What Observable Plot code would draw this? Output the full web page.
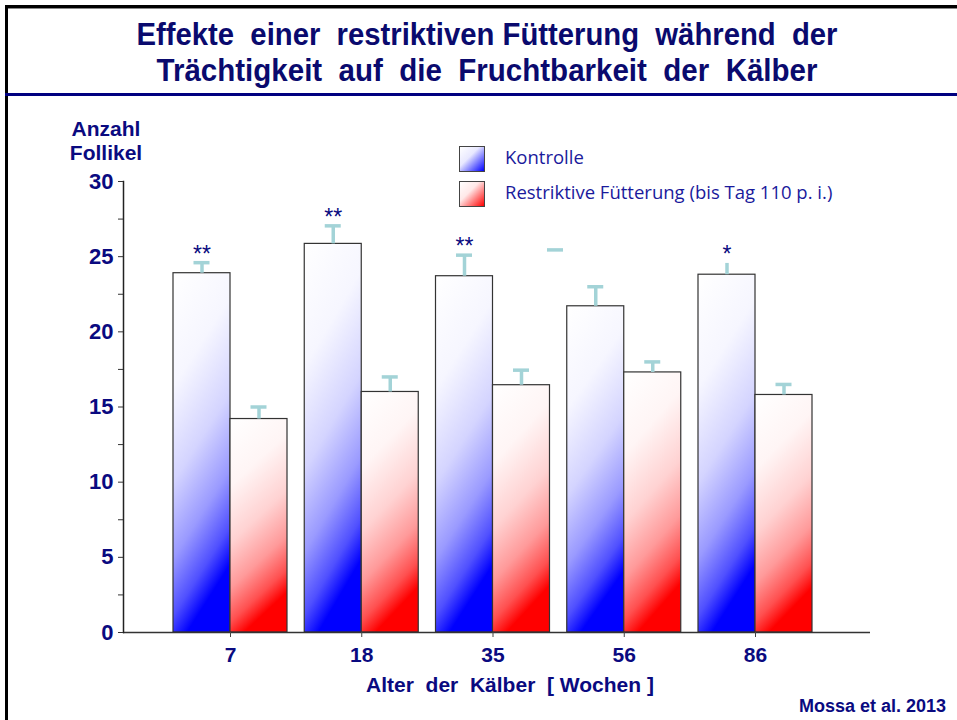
<!DOCTYPE html>
<html>
<head>
<meta charset="utf-8">
<script src="https://cdn.jsdelivr.net/npm/d3@7"></script>
<script src="https://cdn.jsdelivr.net/npm/@observablehq/plot@0.6"></script>
<style>
  body { margin: 0; background: #fff; }
  #page { position: relative; width: 957px; height: 720px; overflow: hidden; background: #fff;
          font-family: "Liberation Sans", Arial, sans-serif; }
  .line { position: absolute; }
  .txt { position: absolute; white-space: pre; color: #0a0a80; font-weight: bold; }
  #chart { position: absolute; left: 0; top: 100px; }
  #title { position: absolute; left: 0; top: 0; }
  .legend { position: absolute; font-family: "Open Sans", Lato, sans-serif; font-size: 18.5px; color: #1a1a9c; white-space: pre; }
  .swatch { position: absolute; width: 26px; height: 26px; box-sizing: border-box; border: 1px solid #444; }
</style>
</head>
<body>
<div id="page">
  <svg width="0" height="0" style="position:absolute">
    <defs>
      <linearGradient id="gradK" x1="0" y1="0" x2="0.25" y2="1">
        <stop offset="0" stop-color="#ffffff"/>
        <stop offset="0.3" stop-color="#f6f6ff"/>
        <stop offset="0.55" stop-color="#d4d4ff"/>
        <stop offset="0.75" stop-color="#9a9aff"/>
        <stop offset="0.9" stop-color="#5050ff"/>
        <stop offset="1" stop-color="#0000ff"/>
      </linearGradient>
      <linearGradient id="gradR" x1="0" y1="0" x2="0.25" y2="1">
        <stop offset="0" stop-color="#ffffff"/>
        <stop offset="0.3" stop-color="#fff5f5"/>
        <stop offset="0.55" stop-color="#ffd2d2"/>
        <stop offset="0.75" stop-color="#ff9a9a"/>
        <stop offset="0.9" stop-color="#ff5050"/>
        <stop offset="1" stop-color="#ff0000"/>
      </linearGradient>
      <filter id="soft" filterUnits="userSpaceOnUse" x="0" y="0" width="957" height="577">
        <feGaussianBlur stdDeviation="0.6"/>
      </filter>
    </defs>
  </svg>

  <!-- slide frame -->
  <div class="line" style="left:5px;top:5px;width:952px;height:3px;background:#000"></div>
  <div class="line" style="left:5px;top:8px;width:952px;height:1px;background:#888"></div>
  <div class="line" style="left:5px;top:5px;width:3px;height:715px;background:#000"></div>
  <div class="line" style="left:5px;top:93px;width:952px;height:3px;background:#000080"></div>

  <svg id="title" width="957" height="92">
    <text x="487" y="45" text-anchor="middle" textLength="701" lengthAdjust="spacingAndGlyphs"
          font-family="'Liberation Sans Narrow', 'Liberation Sans', Arial, sans-serif" font-weight="bold"
          font-size="31" fill="#0a0a6e" xml:space="preserve">Effekte  einer  restriktiven Fütterung  während  der</text>
    <text x="487" y="81" text-anchor="middle" textLength="661" lengthAdjust="spacingAndGlyphs"
          font-family="'Liberation Sans Narrow', 'Liberation Sans', Arial, sans-serif" font-weight="bold"
          font-size="31" fill="#0a0a6e" xml:space="preserve">Trächtigkeit  auf  die  Fruchtbarkeit  der  Kälber</text>
  </svg>

  <div class="txt" style="left:58px;width:96px;text-align:center;top:117px;font-size:21px;line-height:24px">Anzahl
Follikel</div>

  <div class="swatch" style="left:459px;top:146px;background:linear-gradient(135deg,#ffffff 0%,#e8e8ff 40%,#0000ff 100%)"></div>
  <div class="swatch" style="left:459px;top:181px;background:linear-gradient(135deg,#ffffff 0%,#ffe8e8 40%,#ff0000 100%)"></div>
  <div class="legend" style="left:505px;top:144px">Kontrolle</div>
  <div class="legend" style="left:505px;top:179px">Restriktive Fütterung (bis Tag 110 p. i.)</div>

  <div id="chart"></div>

  <div class="txt" style="left:310px;width:400px;text-align:center;top:673px;font-size:21px">Alter  der  Kälber  [ Wochen ]</div>
  <div class="txt" style="right:11px;top:696px;font-size:18px">Mossa et al. 2013</div>
</div>

<script>
// Age of the calves (weeks)
const ages = ["7", "18", "35", "56", "86"];
// Number of follicles, control group, and the height of its error bar
const kontrolle = [23.9, 25.85, 23.7, 21.7, 23.8];
const kontrolleErr = [0.7, 1.2, 1.4, 1.3, 0.75];
const kontrolleCap = [true, true, true, true, false];
// Number of follicles, restricted feeding (until day 110 p. i.)
const restriktiv = [14.2, 16.0, 16.45, 17.3, 15.8];
const restriktivErr = [0.8, 1.0, 1.0, 0.7, 0.7];
// Significance markers over the control bars
const signif = ["**", "**", "**", "", "*"];
// A lone error-bar cap sitting between the 35 and 56 week groups
const strayCaps = [{age: "35", value: 25.45}];

const yTicks = [0, 5, 10, 15, 20, 25, 30];
const yMinorTicks = [2.5, 7.5, 12.5, 17.5, 22.5, 27.5];

const kRows = ages.map((age, i) => ({age, value: kontrolle[i], top: kontrolle[i] + kontrolleErr[i], cap: kontrolleCap[i], sig: signif[i]}));
const rRows = ages.map((age, i) => ({age, value: restriktiv[i], top: restriktiv[i] + restriktivErr[i], cap: true}));

const NAVY = "#0a0a80";
const ERR = "#a3d3d7";
const BAND = 114;          // width of one age group (two bars)
const HALF = BAND / 2;     // one bar
const Q = BAND / 4;        // offset from group centre to a bar centre
const CAP = 16;            // cap length

const errStyle = {stroke: ERR, strokeWidth: 3.5, ariaLabel: "error bar"};

const chart = Plot.plot({
  width: 957,
  height: 577,
  marginTop: 81,
  marginBottom: 45,
  marginLeft: 123,
  marginRight: 87,
  style: {fontFamily: "'Liberation Sans', Arial, sans-serif", background: "transparent"},
  x: {domain: ages, range: [173, 812], paddingInner: 1 - BAND / 131.25, paddingOuter: 0, round: false},
  y: {domain: [0, 30]},
  marks: [
    Plot.barY(kRows, {x: "age", y: "value", insetRight: HALF, fill: "url(#gradK)", stroke: "#333", strokeWidth: 1.2}),
    Plot.barY(rRows, {x: "age", y: "value", insetLeft: HALF, fill: "url(#gradR)", stroke: "#333", strokeWidth: 1.2}),
    Plot.ruleX(kRows, {x: "age", y1: "value", y2: "top", dx: -Q, ...errStyle}),
    Plot.ruleX(rRows, {x: "age", y1: "value", y2: "top", dx: Q, ...errStyle}),
    Plot.tickY(kRows.filter(d => d.cap), {x: "age", y: "top", insetLeft: Q - CAP / 2, insetRight: BAND - Q - CAP / 2, ...errStyle}),
    Plot.tickY(rRows, {x: "age", y: "top", insetLeft: BAND - Q - CAP / 2, insetRight: Q - CAP / 2, ...errStyle}),
    Plot.tickY(strayCaps, {x: "age", y: "value", insetLeft: BAND - Q - CAP / 2, insetRight: Q - CAP / 2, dx: 34, ...errStyle}),
    Plot.text(kRows.filter(d => d.sig), {x: "age", y: "top", text: "sig", dx: -Q, dy: -1, lineAnchor: "bottom", fontSize: 23, fill: NAVY}),
    Plot.ruleY([0], {stroke: "#333", strokeWidth: 1.5}),
    Plot.frame({anchor: "left", stroke: "#222", strokeWidth: 1.5}),
    Plot.axisY({ticks: yTicks, tickSize: 5, tickPadding: 5, fontSize: 22, fontWeight: "bold", fill: NAVY, stroke: "#333", label: null}),
    Plot.axisY({ticks: yMinorTicks, tickSize: 5, text: null, stroke: "#333", label: null}),
    Plot.axisX({tickSize: 5, tickPadding: 10, fontSize: 21, fontWeight: "bold", fill: NAVY, stroke: "#444", label: null})
  ]
});
// soften the error bars slightly
d3.select(chart).selectAll('g[aria-label="error bar"]').attr("filter", "url(#soft)");
document.getElementById("chart").appendChild(chart);
</script>
</body>
</html>
